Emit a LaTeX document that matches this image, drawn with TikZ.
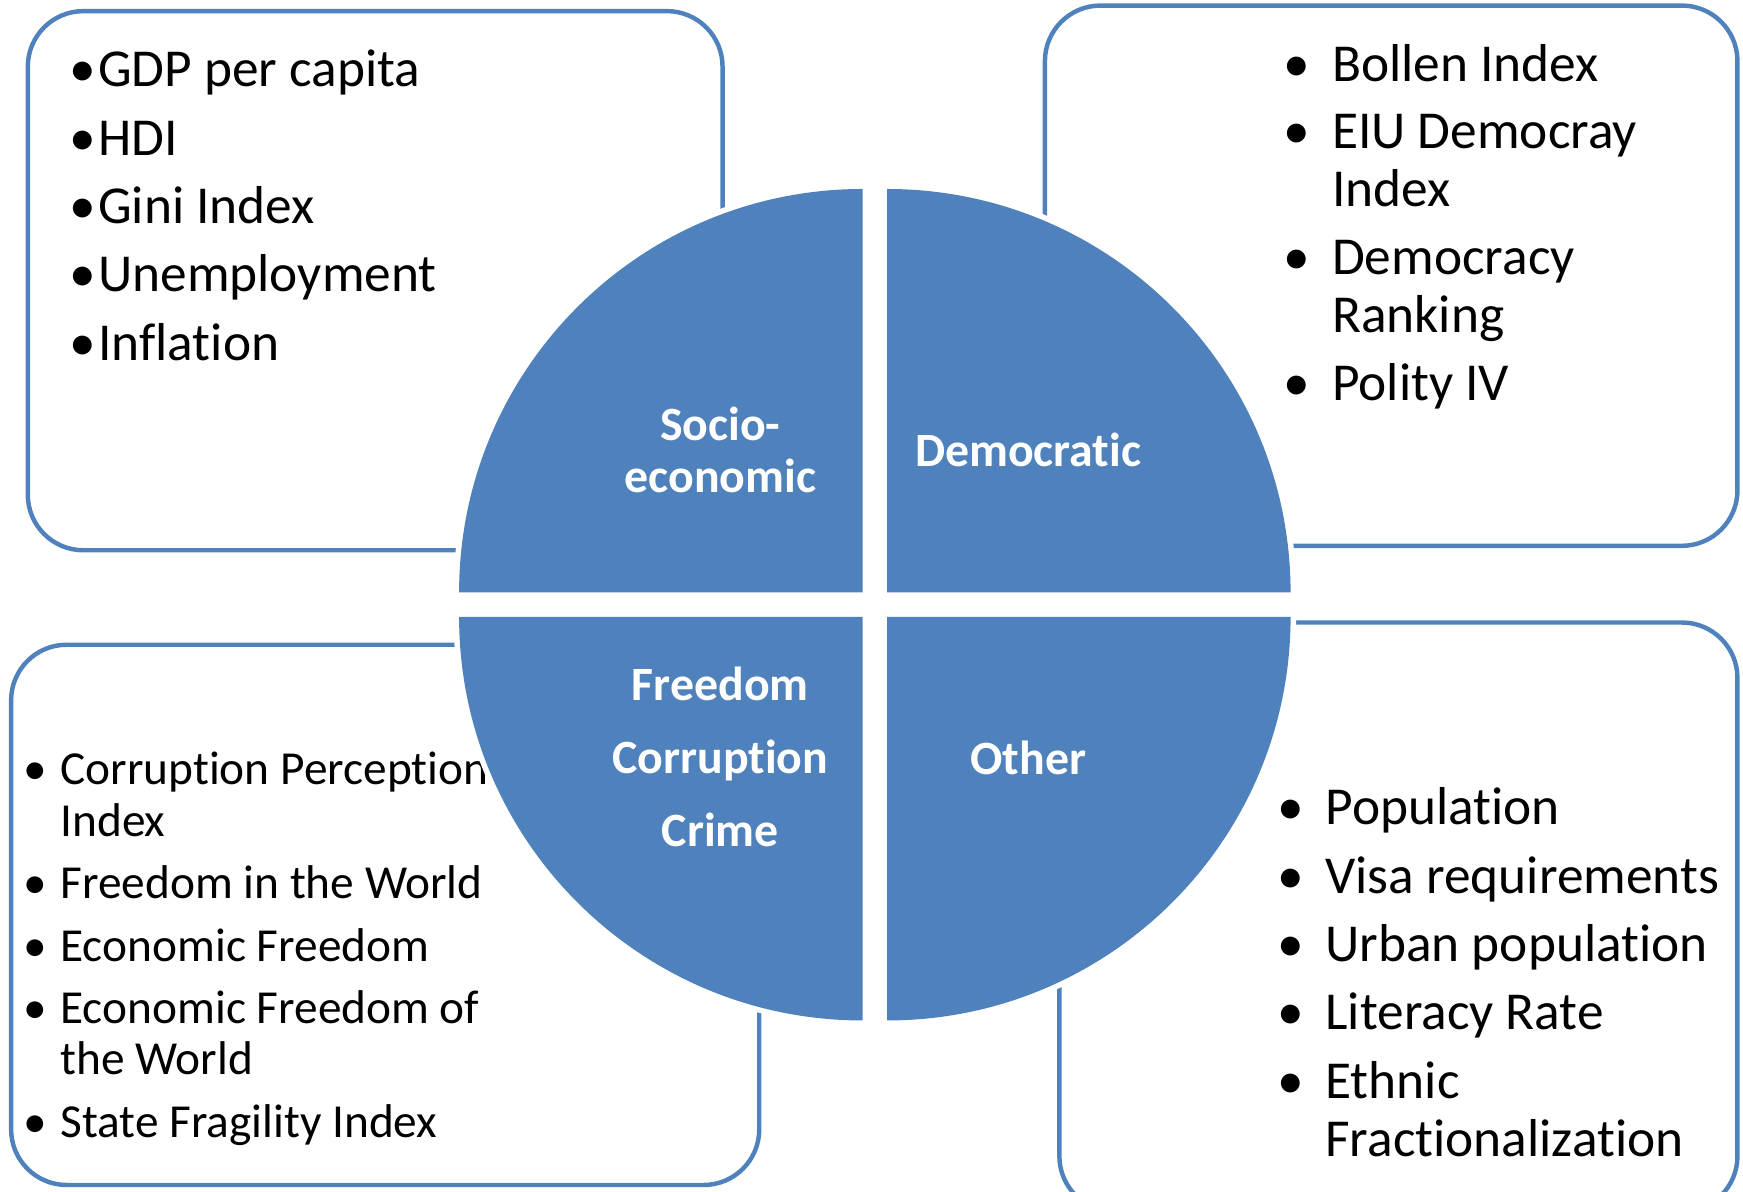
\documentclass[tikz,border=0pt]{standalone}
\usepackage{fontspec}
\usepackage{array}
\setmainfont{Carlito}[Ligatures=NoCommon]
\definecolor{accblue}{HTML}{4F81BD}

\begin{document}
\begin{tikzpicture}[x=0.5pt,y=-0.5pt,
    listbox/.style={draw=accblue, line width=2pt, rounded corners=25pt},
    halo/.style={fill=white, draw=white, line width=5pt},
    piece/.style={fill=accblue},
    label/.style={text=white, align=center, font=\fontsize{21.5}{23.5}\selectfont\bfseries},
    biglist/.style={inner sep=0pt, anchor=base west, font=\fontsize{24}{26}\selectfont},
    smalllist/.style={inner sep=0pt, anchor=base west, font=\fontsize{21.3}{23.25}\selectfont}]
  \useasboundingbox (0,0) rectangle (1568,1072);
  \clip (0,0) rectangle (1568,1072);

  % the four frames
  \draw[listbox] (25,10) rectangle (650,495);
  \draw[listbox] (940,5) rectangle (1563,491);
  \draw[listbox] (10,580) rectangle (683,1066);
  \draw[listbox] (953,560) rectangle (1563,1090);

  % lists
  \node[biglist, font=\fontsize{24}{30.75}\selectfont] (econlist) at (62,78)
    {\begin{tabular}[t]{@{}p{13pt}@{}l@{}}
      •&GDP per capita\\ •&HDI\\ •&Gini Index\\ •&Unemployment\\ •&Inflation
    \end{tabular}};
  \node[biglist] (demlist) at (1154,73)
    {\begin{tabular}[t]{@{}p{22pt}@{}l@{}}
      •&Bollen Index\\[4.5pt] •&EIU Democray\\ &Index\\[4.5pt]
      •&Democracy\\ &Ranking\\[4.5pt] •&Polity IV
    \end{tabular}};
  \node[smalllist] (freelist) at (21,706)
    {\begin{tabular}[t]{@{}p{16.5pt}@{}l@{}}
      •&Corruption Perception\\ &Index\\[4.75pt] •&Freedom in the World\\[4.75pt]
      •&Economic Freedom\\[4.75pt] •&Economic Freedom of\\ &the World\\[4.75pt]
      •&State Fragility Index
    \end{tabular}};
  \node[biglist] (otherlist) at (1149,742)
    {\begin{tabular}[t]{@{}p{21.5pt}@{}l@{}}
      •&Population\\[4.75pt] •&Visa requirements\\[4.75pt] •&Urban population\\[4.75pt]
      •&Literacy Rate\\[4.75pt] •&Ethnic\\ &Fractionalization
    \end{tabular}};

  % pie in four pieces
  \foreach \cx/\cy/\sa in {776/533/180, 798/533/270, 776/555/90, 798/555/0}
    \draw[halo] (\cx,\cy) -- ([shift={(\sa:363)}]\cx,\cy) arc[start angle=\sa, delta angle=90, radius=363] -- cycle;
  \foreach \cx/\cy/\sa in {776/533/180, 798/533/270, 776/555/90, 798/555/0}
    \fill[piece] (\cx,\cy) -- ([shift={(\sa:363)}]\cx,\cy) arc[start angle=\sa, delta angle=90, radius=363] -- cycle;

  \node[label] (socio) at (648,405) {Socio-\\economic};
  \node[label] (demo) at (925,405) {Democratic};
  \node[label, font=\fontsize{21.5}{33}\selectfont\bfseries] (crime) at (648,681) {Freedom\\Corruption\\Crime};
  \node[label] (other) at (925,682) {Other};
\end{tikzpicture}
\end{document}
